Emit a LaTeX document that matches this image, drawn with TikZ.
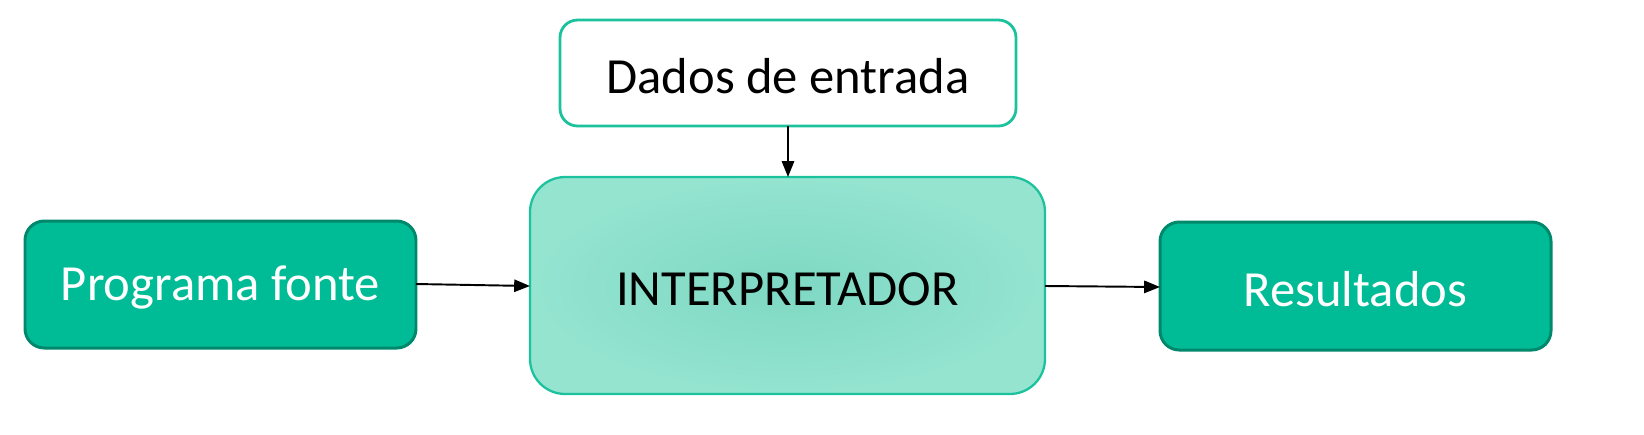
\documentclass[tikz,border=0pt]{standalone}
\usepackage{fontspec}
\setmainfont{Carlito}
\usetikzlibrary{arrows.meta}
\definecolor{tealfill}{HTML}{00BC96}
\definecolor{tealdark}{HTML}{00886C}
\definecolor{tealline}{HTML}{1CC29E}
\definecolor{gradin}{HTML}{7ED8C3}
\definecolor{gradout}{HTML}{94E4D0}
\tikzset{
  greenbox/.style={draw=tealdark, fill=tealfill, line width=1.7pt, rounded corners=11pt, text=white},
  inbox/.style={draw=tealline, fill=white, line width=1.6pt, rounded corners=10pt, text=black},
  interp/.style={draw=tealline, inner color=gradin, outer color=gradout, line width=1.3pt, rounded corners=20pt, text=black},
  conn/.style={-{Triangle[length=9pt,width=7pt]}, line width=1.1pt, black},
  lbl/.style={font=\fontsize{28.8}{34}\selectfont}
}
\begin{document}
\begin{tikzpicture}[x=0.02cm,y=-0.02cm]
\useasboundingbox (0,0) rectangle (1644,434);
% boxes
\draw[greenbox] (25,221) rectangle (416,348);
\node[lbl, text=white] (prog) at (220.5,287) {Programa fonte};
\draw[inbox] (560,20) rectangle (1016,126);
\node[lbl] (dados) at (788,76) {Dados de entrada};
\draw[interp] (530,177) rectangle (1045,394);
\node[lbl] (interp) at (787.5,289) {INTERPRETADOR};
\draw[greenbox] (1160,222) rectangle (1551,350);
\node[lbl, text=white] (res) at (1355.5,289) {Resultados};
% anchor coordinates on box borders
\coordinate (progE) at (416,284);
\coordinate (interpW) at (530,286);
\coordinate (dadosS) at (788,126);
\coordinate (interpN) at (788,177);
\coordinate (interpE) at (1045,286);
\coordinate (resW) at (1160,287);
\draw[conn] (progE) -- (interpW);
\draw[conn] (dadosS) -- (interpN);
\draw[conn] (interpE) -- (resW);
\end{tikzpicture}
\end{document}
